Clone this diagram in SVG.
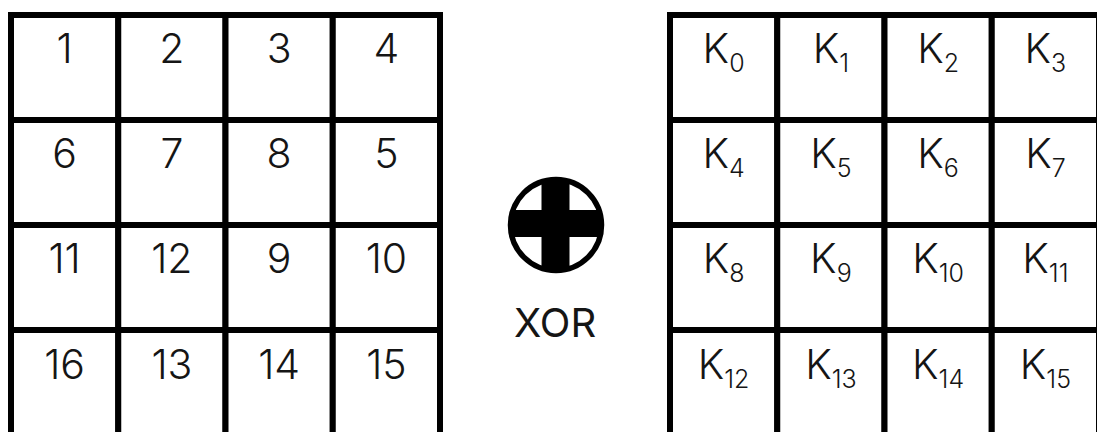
<svg xmlns="http://www.w3.org/2000/svg" width="1097" height="432" viewBox="0 0 1097 432">
  <style>
    .cell { fill: #ffffff; stroke: #000000; stroke-width: 6; }
    .t { font-family: Inter, "Noto Sans", "Liberation Sans", sans-serif; font-size: 41px; font-weight: 300; fill: #151515; text-anchor: middle; }
    .sub { font-size: 25px; }
  </style>
  <defs>
    <clipPath id="xorClip"><circle cx="556" cy="225" r="46"/></clipPath>
  </defs>
  <rect width="1097" height="432" fill="#ffffff"/>

  <!-- Left grid -->
  <g id="left-grid">
    <g id="p1"><rect class="cell" x="11" y="15" width="107.25" height="105"/><text class="t" x="64.6" y="63">1</text></g>
    <g id="p2"><rect class="cell" x="118.25" y="15" width="107.25" height="105"/><text class="t" x="171.9" y="63">2</text></g>
    <g id="p3"><rect class="cell" x="225.5" y="15" width="107.25" height="105"/><text class="t" x="279.1" y="63">3</text></g>
    <g id="p4"><rect class="cell" x="332.75" y="15" width="107.25" height="105"/><text class="t" x="386.4" y="63">4</text></g>

    <g id="p6"><rect class="cell" x="11" y="120" width="107.25" height="105"/><text class="t" x="64.6" y="168">6</text></g>
    <g id="p7"><rect class="cell" x="118.25" y="120" width="107.25" height="105"/><text class="t" x="171.9" y="168">7</text></g>
    <g id="p8"><rect class="cell" x="225.5" y="120" width="107.25" height="105"/><text class="t" x="279.1" y="168">8</text></g>
    <g id="p5"><rect class="cell" x="332.75" y="120" width="107.25" height="105"/><text class="t" x="386.4" y="168">5</text></g>

    <g id="p11"><rect class="cell" x="11" y="225" width="107.25" height="105"/><text class="t" x="64.6" y="273">11</text></g>
    <g id="p12"><rect class="cell" x="118.25" y="225" width="107.25" height="105"/><text class="t" x="171.9" y="273">12</text></g>
    <g id="p9"><rect class="cell" x="225.5" y="225" width="107.25" height="105"/><text class="t" x="279.1" y="273">9</text></g>
    <g id="p10"><rect class="cell" x="332.75" y="225" width="107.25" height="105"/><text class="t" x="386.4" y="273">10</text></g>

    <g id="p16"><rect class="cell" x="11" y="330" width="107.25" height="105"/><text class="t" x="64.6" y="378.5">16</text></g>
    <g id="p13"><rect class="cell" x="118.25" y="330" width="107.25" height="105"/><text class="t" x="171.9" y="378.5">13</text></g>
    <g id="p14"><rect class="cell" x="225.5" y="330" width="107.25" height="105"/><text class="t" x="279.1" y="378.5">14</text></g>
    <g id="p15"><rect class="cell" x="332.75" y="330" width="107.25" height="105"/><text class="t" x="386.4" y="378.5">15</text></g>
  </g>

  <!-- XOR symbol -->
  <g id="xor">
    <circle cx="556" cy="225" r="45.5" fill="#ffffff" stroke="#000000" stroke-width="5.5"/>
    <g clip-path="url(#xorClip)" fill="#000000">
      <rect x="508" y="210" width="96" height="27"/>
      <rect x="541.5" y="176" width="28" height="98"/>
    </g>
    <text class="t" x="555" y="337" style="font-size:40px;font-weight:400">XOR</text>
  </g>

  <!-- Right grid (keys) -->
  <g id="right-grid">
    <g id="k0"><rect class="cell" x="670" y="15" width="107.25" height="105"/><text class="t" x="723.6" y="63">K<tspan class="sub" dy="9">0</tspan></text></g>
    <g id="k1"><rect class="cell" x="777.25" y="15" width="107.25" height="105"/><text class="t" x="830.9" y="63">K<tspan class="sub" dy="9">1</tspan></text></g>
    <g id="k2"><rect class="cell" x="884.5" y="15" width="107.25" height="105"/><text class="t" x="938.1" y="63">K<tspan class="sub" dy="9">2</tspan></text></g>
    <g id="k3"><rect class="cell" x="991.75" y="15" width="107.25" height="105"/><text class="t" x="1045.4" y="63">K<tspan class="sub" dy="9">3</tspan></text></g>

    <g id="k4"><rect class="cell" x="670" y="120" width="107.25" height="105"/><text class="t" x="723.6" y="168">K<tspan class="sub" dy="9">4</tspan></text></g>
    <g id="k5"><rect class="cell" x="777.25" y="120" width="107.25" height="105"/><text class="t" x="830.9" y="168">K<tspan class="sub" dy="9">5</tspan></text></g>
    <g id="k6"><rect class="cell" x="884.5" y="120" width="107.25" height="105"/><text class="t" x="938.1" y="168">K<tspan class="sub" dy="9">6</tspan></text></g>
    <g id="k7"><rect class="cell" x="991.75" y="120" width="107.25" height="105"/><text class="t" x="1045.4" y="168">K<tspan class="sub" dy="9">7</tspan></text></g>

    <g id="k8"><rect class="cell" x="670" y="225" width="107.25" height="105"/><text class="t" x="723.6" y="273">K<tspan class="sub" dy="9">8</tspan></text></g>
    <g id="k9"><rect class="cell" x="777.25" y="225" width="107.25" height="105"/><text class="t" x="830.9" y="273">K<tspan class="sub" dy="9">9</tspan></text></g>
    <g id="k10"><rect class="cell" x="884.5" y="225" width="107.25" height="105"/><text class="t" x="938.1" y="273">K<tspan class="sub" dy="9">10</tspan></text></g>
    <g id="k11"><rect class="cell" x="991.75" y="225" width="107.25" height="105"/><text class="t" x="1045.4" y="273">K<tspan class="sub" dy="9">11</tspan></text></g>

    <g id="k12"><rect class="cell" x="670" y="330" width="107.25" height="105"/><text class="t" x="723.6" y="378.5">K<tspan class="sub" dy="9">12</tspan></text></g>
    <g id="k13"><rect class="cell" x="777.25" y="330" width="107.25" height="105"/><text class="t" x="830.9" y="378.5">K<tspan class="sub" dy="9">13</tspan></text></g>
    <g id="k14"><rect class="cell" x="884.5" y="330" width="107.25" height="105"/><text class="t" x="938.1" y="378.5">K<tspan class="sub" dy="9">14</tspan></text></g>
    <g id="k15"><rect class="cell" x="991.75" y="330" width="107.25" height="105"/><text class="t" x="1045.4" y="378.5">K<tspan class="sub" dy="9">15</tspan></text></g>
  </g>

  <g id="connectors"></g>
</svg>
